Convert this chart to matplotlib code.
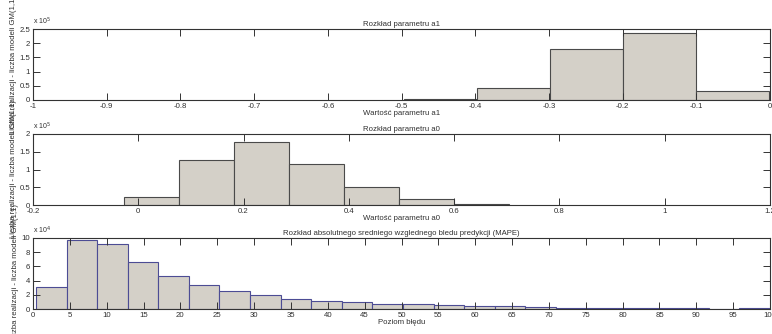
import numpy as np
import matplotlib
matplotlib.use("Agg")
import matplotlib.pyplot as plt

# === Dane ===
a1_edges = [-0.497, -0.398, -0.299, -0.200, -0.101, -0.002]
a1_counts = [3500, 44000, 179000, 236000, 32000]

a0_edges = [-0.027, 0.077, 0.182, 0.287, 0.391, 0.496, 0.600, 0.705]
a0_counts = [21600, 126000, 177000, 115500, 50000, 16000, 2500]

mape_edges = [0.4, 4.55, 8.7, 12.85, 17.0, 21.15, 25.3, 29.45, 33.6, 37.75,
              41.9, 46.05, 50.2, 54.35, 58.5, 62.65, 66.8, 70.95, 75.1, 79.25,
              83.4, 87.55, 91.7, 95.85, 100.0]
mape_counts = [31500, 97200, 91500, 66200, 46500, 33800, 25400, 19200, 14100,
               11300, 9400, 7500, 7000, 5600, 4200, 3800, 2800, 1900, 1400,
               1200, 1000, 800, 700, 1000]

a1_xticks = [-1, -0.9, -0.8, -0.7, -0.6, -0.5, -0.4, -0.3, -0.2, -0.1, 0]
a1_yticks = [0, 0.5, 1, 1.5, 2, 2.5]
a0_xticks = [-0.2, 0, 0.2, 0.4, 0.6, 0.8, 1, 1.2]
a0_yticks = [0, 0.5, 1, 1.5, 2]
mape_xticks = list(range(0, 101, 5))
mape_yticks = [0, 2, 4, 6, 8, 10]

ylab = "Liczba realizacji - liczba modeli GM(1,1)"

plt.rcParams['font.family'] = ['Liberation Sans', 'DejaVu Sans']
FS = 5.6
TXT = '#303030'
FACE = '#d4d0c8'

fig = plt.figure(figsize=(7.72, 3.34), dpi=100)

W = 737 / 772
H = 71 / 334
L = 33 / 772
panels = [
    dict(bottom=(334 - 100) / 334, edges=a1_edges, counts=a1_counts, scale=1e5,
         xlim=(-1, 0), ylim=(0, 2.5), xt=a1_xticks, yt=a1_yticks, exp='5',
         title="Rozkład parametru a1", xlabel="Wartość parametru a1", ec='#4a4a4a'),
    dict(bottom=(334 - 205) / 334, edges=a0_edges, counts=a0_counts, scale=1e5,
         xlim=(-0.2, 1.2), ylim=(0, 2), xt=a0_xticks, yt=a0_yticks, exp='5',
         title="Rozkład parametru a0", xlabel="Wartość parametru a0", ec='#4a4a4a'),
    dict(bottom=(334 - 309) / 334, edges=mape_edges, counts=mape_counts, scale=1e4,
         xlim=(0, 100), ylim=(0, 10), xt=mape_xticks, yt=mape_yticks, exp='4',
         title="Rozkład absolutnego sredniego wzglednego bledu predykcji (MAPE)",
         xlabel="Poziom błędu", ec='#4c4c94'),
]

for p in panels:
    ax = fig.add_axes([L, p['bottom'], W, H])
    edges = np.array(p['edges'])
    vals = np.array(p['counts']) / p['scale']
    ax.bar(edges[:-1], vals, width=np.diff(edges), align='edge',
           color=FACE, edgecolor=p['ec'], linewidth=0.8)
    ax.set_xlim(*p['xlim'])
    ax.set_ylim(*p['ylim'])
    ax.set_xticks(p['xt'])
    ax.set_yticks(p['yt'])
    ax.set_xticklabels([f"{t:g}" for t in p['xt']])
    ax.set_yticklabels([f"{t:g}" for t in p['yt']])
    ax.tick_params(direction='in', length=5, width=0.7, top=True, right=True,
                   labelsize=FS, labelcolor=TXT, pad=2, color='#333333')
    for s in ax.spines.values():
        s.set_linewidth(0.8)
        s.set_color('#333333')
    ax.set_title(p['title'], fontsize=FS, color=TXT, pad=2.5)
    ax.set_xlabel(p['xlabel'], fontsize=FS, color=TXT, labelpad=0.5)
    ax.set_ylabel(ylab, fontsize=FS, color=TXT, labelpad=2)
    ax.text(0.0, 1.03, "x 10$^{" + p['exp'] + "}$", transform=ax.transAxes,
            fontsize=FS - 0.6, color=TXT, ha='left', va='bottom')

fig.savefig("out.png", dpi=100, facecolor='white')
